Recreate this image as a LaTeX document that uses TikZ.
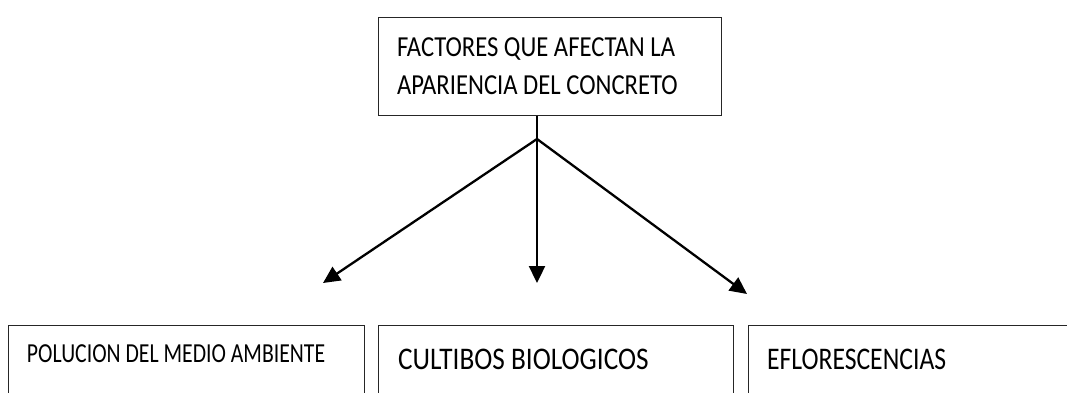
\documentclass[tikz,border=0pt]{standalone}
\usepackage{fontspec}
\setmainfont{Carlito}
\usetikzlibrary{arrows.meta}
\begin{document}
\begin{tikzpicture}[x=1pt,y=-1pt,
  boxline/.style={draw=black!85,line width=1.2pt},
  conn/.style={line width=2.3pt,-{Triangle[length=17pt,width=16pt]}},
  plain/.style={line width=1.3pt},
  lbl/.style={anchor=base west,inner sep=0pt,outer sep=0pt}]
\useasboundingbox (0,0) rectangle (1067,392);
\clip (0,0) rectangle (1067,392);
% top box
\node[boxline,anchor=north west,minimum width=343pt,minimum height=98pt,inner sep=0pt] (top) at (378,17) {};
\node[lbl] (t1) at (397,56) {\fontsize{29}{34}\selectfont\scalebox{0.85}[1]{FACTORES QUE AFECTAN LA}};
\node[lbl] (t2) at (397,94) {\fontsize{29}{34}\selectfont\scalebox{0.85}[1]{APARIENCIA DEL CONCRETO}};
% bottom boxes
\node[boxline,anchor=north west,minimum width=356pt,minimum height=90pt,inner sep=0pt] (b1) at (8,325) {};
\node[boxline,anchor=north west,minimum width=355pt,minimum height=90pt,inner sep=0pt] (b2) at (378,325) {};
\node[boxline,anchor=north west,minimum width=340pt,minimum height=90pt,inner sep=0pt] (b3) at (748,325) {};
\node[lbl] (l1) at (27,362) {\fontsize{27.5}{32}\selectfont\scalebox{0.79}[1]{POLUCION DEL MEDIO AMBIENTE}};
\node[lbl] (l2) at (398,369) {\fontsize{31.5}{36}\selectfont\scalebox{0.865}[1]{CULTIBOS BIOLOGICOS}};
\node[lbl] (l3) at (767,369) {\fontsize{31.5}{36}\selectfont\scalebox{0.815}[1]{EFLORESCENCIAS}};
% connectors
\coordinate (j) at (537,139);
\coordinate (e1) at (323,283);
\coordinate (e2) at (537,283);
\coordinate (e3) at (747,294);
\draw[plain] (top.south -| j) -- (j);
\draw[conn] (j) -- (e1);
\draw[conn] (j) -- (e2);
\draw[conn] (j) -- (e3);
\end{tikzpicture}
\end{document}
